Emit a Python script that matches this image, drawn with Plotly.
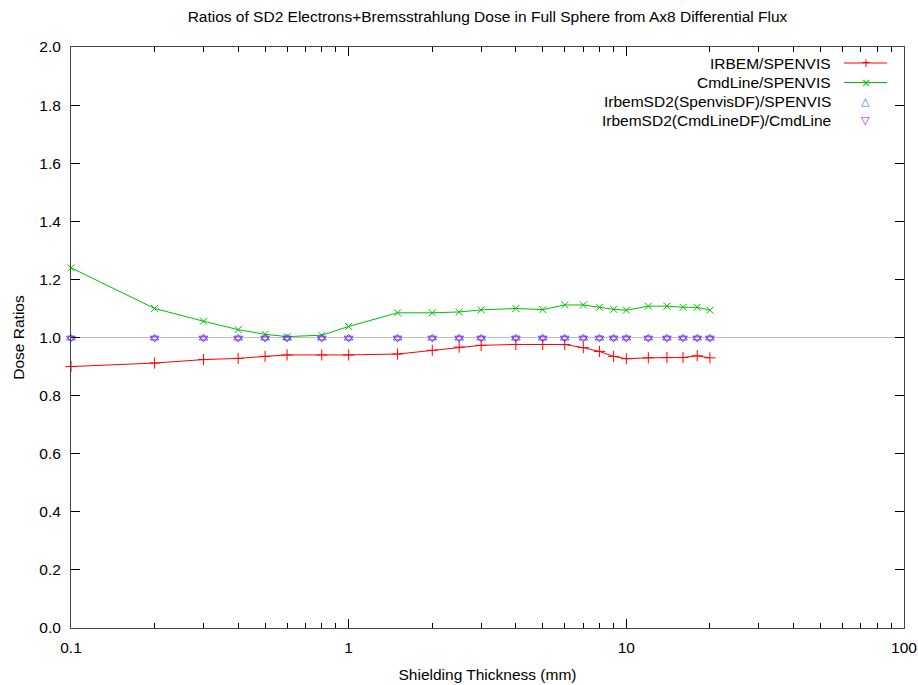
import plotly.graph_objects as go

thickness = [0.1, 0.2, 0.3, 0.4, 0.5, 0.6, 0.8, 1.0, 1.5, 2, 2.5, 3, 4, 5, 6, 7, 8, 9, 10, 12, 14, 16, 18, 20]
irbem_spenvis = [0.900, 0.912, 0.924, 0.928, 0.935, 0.940, 0.940, 0.940, 0.943, 0.956, 0.967, 0.973, 0.976,
                 0.976, 0.976, 0.965, 0.952, 0.935, 0.927, 0.930, 0.931, 0.931, 0.937, 0.930]
cmdline_spenvis = [1.240, 1.100, 1.056, 1.027, 1.011, 1.003, 1.008, 1.038, 1.085, 1.085, 1.088, 1.095, 1.100,
                   1.096, 1.112, 1.112, 1.104, 1.097, 1.094, 1.108, 1.108, 1.104, 1.104, 1.094]
sd2_spenvisdf = [0.998] * len(thickness)
sd2_cmdlinedf = [0.998] * len(thickness)

names = ["IRBEM/SPENVIS", "CmdLine/SPENVIS", "IrbemSD2(SpenvisDF)/SPENVIS", "IrbemSD2(CmdLineDF)/CmdLine"]
colors = ["#ff0000", "#00c000", "#0080ff", "#c000ff"]

x_major = [0.1, 1, 10, 100]
x_minor = [m * d for d in [0.1, 1, 10] for m in range(2, 10)]
y_ticks = [0.0, 0.2, 0.4, 0.6, 0.8, 1.0, 1.2, 1.4, 1.6, 1.8, 2.0]

FONT = "Liberation Sans, Arial, sans-serif"
FS = 15.5

W, H = 918, 685
L, R, T, B = 71, 14, 47, 57
pw, ph = W - L - R, H - T - B


def px_to_paper(fx, fy):
    return (fx - L) / pw, 1 - (fy - T) / ph


fig = go.Figure()
fig.add_hline(y=1.0, line=dict(color="#c0c0c0", width=1.2), layer="below")

fig.add_trace(go.Scatter(x=thickness, y=irbem_spenvis, mode="lines+markers", name=names[0],
                         line=dict(color=colors[0], width=1), cliponaxis=False,
                         marker=dict(symbol="cross-thin", size=8, line=dict(color=colors[0], width=1))))
fig.add_trace(go.Scatter(x=thickness, y=cmdline_spenvis, mode="lines+markers", name=names[1],
                         line=dict(color=colors[1], width=1), cliponaxis=False,
                         marker=dict(symbol="x-thin", size=7, line=dict(color=colors[1], width=1))))
fig.add_trace(go.Scatter(x=thickness, y=sd2_spenvisdf, mode="markers", name=names[2], cliponaxis=False,
                         marker=dict(symbol="triangle-up-open", size=7.5, color=colors[2], line=dict(width=1))))
fig.add_trace(go.Scatter(x=thickness, y=sd2_cmdlinedf, mode="markers", name=names[3], cliponaxis=False,
                         marker=dict(symbol="triangle-down-open", size=7.5, color=colors[3], line=dict(width=1))))

# gnuplot-style key: right-aligned text with the sample on its right
legend_y = [63, 82.5, 101.5, 120.5]
glyphs = ["+", "\u00d7", "\u25b3", "\u25bd"]
for i, nm in enumerate(names):
    tx, ty = px_to_paper(833, legend_y[i])
    fig.add_annotation(x=tx, y=ty, xref="paper", yref="paper", text=nm, showarrow=False,
                       xanchor="right", yanchor="middle", font=dict(family=FONT, size=FS, color="#000"))
    if i < 2:
        x0, _ = px_to_paper(844, legend_y[i])
        x1, _ = px_to_paper(887, legend_y[i])
        fig.add_shape(type="line", xref="paper", yref="paper", x0=x0, x1=x1, y0=ty, y1=ty,
                      line=dict(color=colors[i], width=1))
    gx, _ = px_to_paper(865.5, legend_y[i])
    fig.add_annotation(x=gx, y=ty, xref="paper", yref="paper", text=glyphs[i], showarrow=False,
                       xanchor="center", yanchor="middle",
                       font=dict(family="DejaVu Sans", size=11 if i >= 2 else 12, color=colors[i]))

fig.update_layout(
    width=W, height=H,
    margin=dict(l=L, r=R, t=T, b=B, autoexpand=False),
    paper_bgcolor="white", plot_bgcolor="white",
    showlegend=False,
    title=dict(text="Ratios of SD2 Electrons+Bremsstrahlung Dose in Full Sphere from Ax8 Differential Flux",
               x=487.5 / W, xanchor="center", y=1 - 17 / H, yanchor="middle",
               automargin=False, font=dict(family=FONT, size=FS, color="#000")),
    font=dict(family=FONT, size=FS, color="#000"),
)
fig.update_xaxes(type="log", range=[-1, 2], tickvals=x_major, ticktext=["0.1", "1", "10", "100"],
                 ticks="inside", ticklen=9, tickcolor="#000", tickwidth=1, automargin=False,
                 ticklabelstandoff=5,
                 minor=dict(tickvals=x_minor, ticks="inside", ticklen=5, tickcolor="#000", tickwidth=1),
                 showline=True, linecolor="#444", linewidth=1, mirror="allticks",
                 showgrid=False, zeroline=False,
                 title=dict(text="Shielding Thickness (mm)", standoff=14, font=dict(size=FS)))
fig.update_yaxes(range=[0, 2], tickvals=y_ticks, ticktext=[f"{v:.1f}" for v in y_ticks],
                 ticks="inside", ticklen=9, tickcolor="#000", tickwidth=1, automargin=False,
                 ticklabelstandoff=6,
                 showline=True, linecolor="#444", linewidth=1, mirror="allticks",
                 showgrid=False, zeroline=False,
                 title=dict(text="Dose Ratios", standoff=10, font=dict(size=FS)))

fig.write_html("out.html", config={"displayModeBar": False},
               post_script="document.body.style.margin='0';document.body.style.overflow='hidden';")
